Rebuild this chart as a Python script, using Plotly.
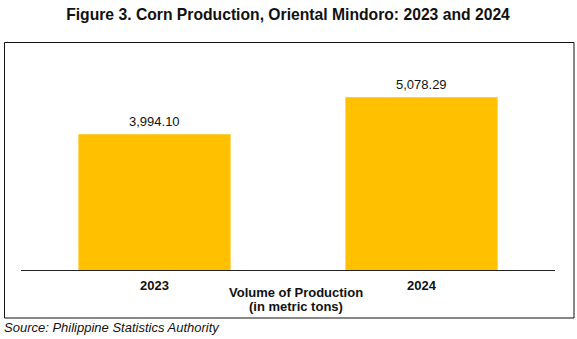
import plotly.graph_objects as go

categories = ["2023", "2024"]
production = [3994.10, 5078.29]
value_labels = ["3,994.10", "5,078.29"]

W, H = 577, 339
ml, mr, mt, mb = 21, 22, 66, 69
pw = W - ml - mr
ph = H - mt - mb
FONT = "Liberation Sans, Arial"
INK = "#111111"

def px_x(x):
    return (x - ml) / pw

def px_y(y):
    return (H - mb - y) / ph

fig = go.Figure()
fig.add_trace(go.Bar(
    x=categories, y=production,
    marker=dict(color="#FFC000", line=dict(width=0)),
    hoverinfo="skip",
))

# on a category axis, annotation positions are the category index
for i, (val, lab) in enumerate(zip(production, value_labels)):
    fig.add_annotation(x=i, y=val, text=lab, showarrow=False,
                       xanchor="center", yanchor="middle", yshift=12.5,
                       font=dict(family=FONT, size=13, color=INK))

fig.update_layout(
    width=W, height=H,
    margin=dict(l=ml, r=mr, t=mt, b=mb),
    paper_bgcolor="white", plot_bgcolor="white",
    bargap=0.43,
    showlegend=False,
    font=dict(family=FONT, color=INK),
    title=dict(text="<b>Figure 3. Corn Production, Oriental Mindoro: 2023 and 2024</b>",
               x=0.5, xanchor="center", xref="paper", y=1 - 14.5 / H, yanchor="middle",
               font=dict(family=FONT, size=15.7, color=INK)),
    xaxis=dict(type="category", range=[-0.5, len(categories) - 0.5],
               showline=True, linecolor="#222222", linewidth=1, ticks="",
               ticklabelstandoff=3,
               tickfont=dict(family=FONT, size=13, color=INK, weight="bold"),
               showgrid=False, zeroline=False),
    yaxis=dict(range=[0, 6000], visible=False, showgrid=False, zeroline=False),
)

fig.add_shape(type="rect", xref="paper", yref="paper",
              x0=px_x(4.5), x1=px_x(574), y0=px_y(318), y1=px_y(42.5),
              line=dict(color=INK, width=1), layer="below")

fig.add_annotation(text="<b>Volume of Production</b>",
                   xref="paper", yref="paper", x=px_x(296), y=px_y(292),
                   xanchor="center", yanchor="middle", showarrow=False,
                   font=dict(family=FONT, size=13, color=INK))
fig.add_annotation(text="<b>(in metric tons)</b>",
                   xref="paper", yref="paper", x=px_x(296), y=px_y(306.5),
                   xanchor="center", yanchor="middle", showarrow=False,
                   font=dict(family=FONT, size=13, color=INK))

fig.add_annotation(text="<i>Source: Philippine Statistics Authority</i>",
                   xref="paper", yref="paper", x=px_x(2), y=px_y(327.5),
                   xanchor="left", yanchor="middle", showarrow=False,
                   font=dict(family=FONT, size=13, color=INK))

fig.write_html("out.html")
